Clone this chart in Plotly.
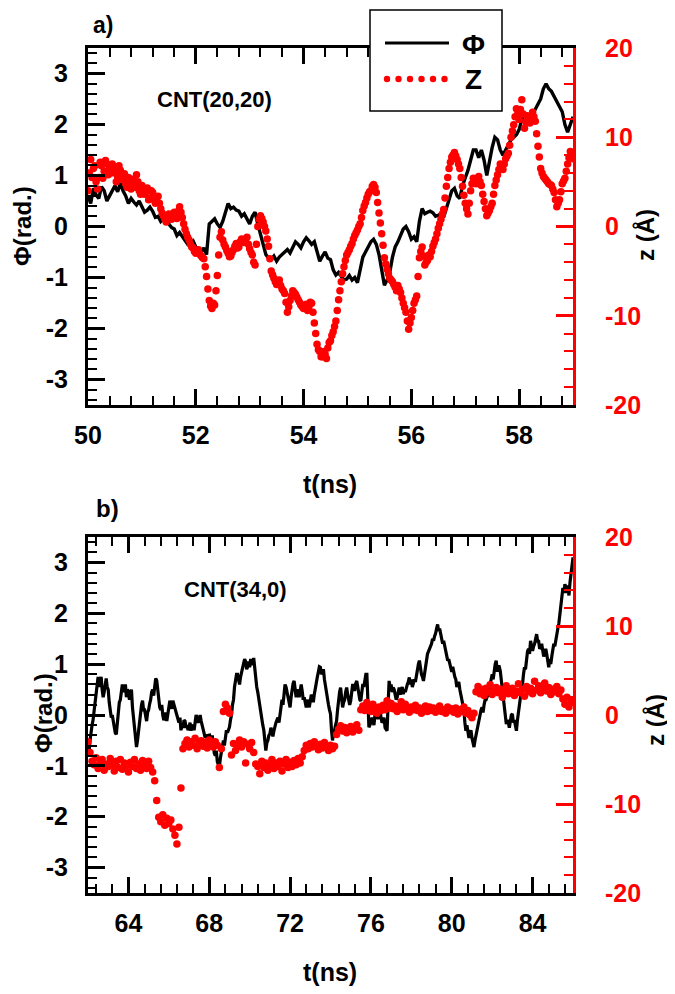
import numpy as np
import plotly.graph_objects as go

# page is 675x994; the html body adds an 8px margin, so the figure is 8px smaller
W, H = 675, 994
OFF = 8
FW, FH = W - OFF, H - OFF

# ---------------- data ----------------
# Panel a) CNT(20,20): Phi every 0.05 ns from 50 ns
phi_a = [0.6, 0.45, 0.75, 0.62, 0.55, 0.78, 0.7, 0.5, 0.6, 0.72, 0.8, 0.68, 0.85, 0.7, 0.6, 0.45, 0.55, 0.48, 0.42, 0.5,
         0.4, 0.28, 0.32, 0.38, 0.3, 0.18, 0.2, 0.1, 0.15, 0.22, 0.05, -0.02, -0.05, -0.18, -0.12, -0.2, -0.25, -0.35, -0.32, -0.28,
         -0.4, -0.45, -0.5, -0.42, -0.55, 0.05, 0.1, 0.15, 0.05, -0.02, 0.1, 0.3, 0.45, 0.35, 0.38, 0.32, 0.3, 0.2, 0.25, 0.15,
         0.05, 0.2, 0.28, 0.05, -0.15, -0.4, -0.55, -0.62, -0.65, -0.58, -0.68, -0.6, -0.55, -0.48, -0.45, -0.52, -0.4, -0.3, -0.35, -0.42,
         -0.3, -0.22, -0.28, -0.35, -0.3, -0.5, -0.68, -0.58, -0.5, -0.62, -0.65, -0.85, -0.95, -0.9, -0.98, -1.05, -1.03, -0.96, -1.05, -1.0,
         -1.1, -0.85, -0.6, -0.5, -0.38, -0.3, -0.25, -0.35, -0.55, -0.9, -1.15, -1.05, -0.9, -0.6, -0.4, -0.3, -0.18, -0.05, 0.0, -0.1,
         -0.25, -0.2, -0.3, 0.1, 0.35, 0.25, 0.28, 0.3, 0.27, 0.2, 0.22, 0.25, 0.18, 0.35, 0.5, 0.7, 0.75, 0.6, 0.55, 0.8,
         0.95, 1.1, 1.3, 1.5, 1.5, 1.35, 1.5, 1.3, 1.0, 1.3, 1.55, 1.75, 1.7, 1.5, 1.4, 1.5, 1.6, 1.7, 1.75, 1.8,
         1.9, 2.1, 2.2, 2.1, 2.05, 2.2, 2.3, 2.4, 2.5, 2.7, 2.8, 2.7, 2.65, 2.55, 2.45, 2.35, 2.25, 2.0, 1.85, 2.0,
         2.15]
# z every 0.05 ns from 50 ns, and a second reading of the cloud at the half steps
z_a = [4.0, 7.5, 6.5, 5.0, 5.5, 6.8, 6.2, 7.0, 6.5, 7.0, 6.0, 5.6, 6.3, 5.2, 4.8, 5.5, 4.2, 4.8, 5.8, 4.0,
       4.6, 3.6, 4.3, 3.2, 3.8, 2.6, 3.4, 2.0, 1.2, 0.5, 1.4, 0.8, 1.6, 0.9, 2.2, 1.0, -0.3, -1.2, -2.0, -2.4,
       -3.0, -2.6, -3.3, -3.6, -5.6, -8.3, -9.2, -8.8, -5.5, -1.2, -1.5, -2.3, -3.0, -3.3, -2.6, -1.9, -2.3, -1.4, -1.8, -1.2,
       -2.5, -3.2, -4.3, 0.0, 1.2, 0.5, -0.5, -2.2, -5.0, -5.8, -6.5, -6.0, -7.0, -7.5, -9.6, -8.3, -7.2, -7.6, -8.2, -8.8,
       -9.2, -8.7, -9.0, -8.6, -10.8, -13.2, -14.0, -14.6, -14.3, -13.6, -12.8, -11.8, -10.6, -8.2, -6.2, -4.5, -3.2, -2.6, -1.9, -1.0,
       -0.4, 0.3, 1.8, 2.7, 3.6, 4.0, 4.7, 3.8, 1.5, -0.8, -3.5, -4.8, -5.8, -6.2, -6.8, -6.6, -7.4, -8.6, -9.6, -11.5,
       -10.2, -8.6, -7.8, -3.5, -2.3, -4.3, -3.8, -3.4, -2.2, -1.4, -0.2, 0.8, 1.9, 4.5, 6.5, 7.8, 8.3, 7.5, 6.5, 4.5,
       2.6, 1.4, 4.0, 5.4, 4.8, 5.6, 4.6, 2.8, 1.2, 1.8, 2.6, 4.6, 5.8, 7.0, 6.4, 7.6, 8.2, 10.0, 11.4, 13.2,
       12.0, 14.2, 11.0, 12.4, 11.6, 12.8, 11.8, 9.0, 6.5, 5.6, 5.2, 4.8, 4.6, 3.8, 2.2, 3.0, 4.8, 5.4, 7.0, 8.4,
       7.6]
z_a_mid = [6.0, 5.5, 6.8, 4.2, 7.2, 5.4, 7.4, 5.8, 6.0, 6.6, 5.0, 6.8, 5.6, 5.9, 4.4, 5.0, 5.3, 4.4, 5.0, 3.6,
           4.0, 3.9, 3.0, 4.0, 3.0, 2.9, 2.6, 1.5, 0.9, 1.0, 0.9, 1.3, 1.1, 1.7, 1.6, 0.3, -0.8, -1.5, -2.3, -2.8,
           -2.7, -3.1, -3.5, -4.5, -7.0, -8.9, -8.6, -7.2, -3.2, -0.6, -2.0, -2.7, -3.4, -2.9, -2.2, -2.4, -1.7, -1.7, -1.4, -2.0,
           -2.9, -4.0, -2.0, 0.8, 0.9, 0.0, -1.4, -3.6, -5.4, -6.2, -6.3, -6.6, -7.2, -8.5, -9.0, -7.8, -7.4, -7.9, -8.5, -9.0,
           -8.8, -9.4, -8.5, -9.6, -12.0, -13.8, -14.6, -14.0, -14.8, -13.0, -12.2, -11.2, -9.4, -7.2, -5.3, -3.8, -2.9, -2.2, -1.4, -0.7,
           0.0, 1.0, 2.3, 3.2, 3.9, 4.5, 4.4, 2.7, 0.4, -2.1, -4.2, -5.3, -6.0, -6.5, -7.2, -7.0, -8.0, -9.1, -10.6, -10.8,
           -9.4, -8.2, -5.6, -2.8, -3.3, -4.0, -3.2, -2.8, -1.8, -0.8, 0.3, 1.4, 3.2, 5.5, 7.2, 8.0, 7.9, 7.0, 5.5, 3.5,
           2.0, 2.6, 4.8, 5.0, 5.3, 5.0, 3.6, 2.0, 1.5, 2.2, 3.6, 5.2, 6.4, 6.7, 7.0, 7.9, 9.1, 10.7, 12.3, 12.6,
           13.1, 12.6, 11.7, 12.0, 12.2, 12.3, 10.4, 7.8, 6.0, 5.4, 5.0, 4.7, 4.2, 3.0, 2.6, 3.9, 5.1, 6.2, 7.7, 8.0]

# Panel b) CNT(34,0): Phi every 0.1 ns from 62 ns, plus readings at the half steps
phi_b = [-0.6, -0.5, -0.2, 0.1, 0.4, 0.75, 0.7, 0.5, 0.45, 0.72,
         0.5, 0.1, 0.0, -0.2, -0.38, 0.1, 0.3, 0.6, 0.5, 0.35,
         0.47, 0.42, 0.15, -0.2, -0.63, -0.3, 0.05, 0.28, 0.1, -0.12,
         0.1, 0.3, 0.5, 0.6, 0.68, 0.3, 0.1, 0.0, -0.05, -0.12,
         0.1, 0.22, 0.28, 0.15, 0.02, -0.15, -0.3, -0.25, -0.12, -0.2,
         -0.25, -0.31, -0.2, -0.1, -0.05, -0.1, -0.12, -0.25, -0.45, -0.5,
         -0.37, -0.5, -0.63, -0.8, -0.92, -1.02, -0.7, -0.5, -0.4, -0.35,
         -0.24, 0.0, 0.3, 0.7, 0.8, 0.6, 0.85, 1.0, 1.05, 0.95,
         0.94, 1.05, 1.12, 0.7, 0.45, 0.15, -0.1, -0.3, -0.7, -0.5,
         -0.37, -0.35, -0.31, -0.15, -0.05, 0.02, 0.3, 0.45, 0.55, 0.35,
         0.15, 0.5, 0.67, 0.35, 0.45, 0.54, 0.47, 0.35, 0.15, 0.25,
         0.28, 0.35, 0.41, 0.6, 0.85, 0.94, 0.85, 0.7, 0.41, 0.2,
         0.02, -0.5, -0.3, -0.12, 0.3, 0.54, 0.15, 0.3, 0.54, 0.3,
         0.28, 0.61, 0.5, 0.67, 0.4, 0.28, 0.61, 0.7, 0.8, -0.24,
         -0.15, -0.12, 0.0, 0.02, 0.02, -0.05, -0.12, -0.25, -0.31, 0.67,
         0.6, 0.54, 0.4, 0.35, 0.54, 0.5, 0.41, 0.45, 0.6, 0.74,
         0.7, 0.61, 0.65, 0.9, 1.07, 0.8, 0.67, 0.95, 1.2, 1.3,
         1.4, 1.46, 1.6, 1.78, 1.7, 1.5, 1.46, 1.3, 1.07, 1.0,
         0.85, 0.8, 0.7, 0.61, 0.5, 0.3, 0.1, -0.31, -0.35, -0.37,
         -0.45, -0.63, -0.4, -0.18, 0.0, 0.15, 0.2, 0.3, 0.41, 0.6,
         0.8, 0.9, 1.07, 0.95, 0.87, 0.5, 0.28, -0.18, -0.15, -0.12,
         0.02, -0.1, -0.31, 0.1, 0.35, 0.6, 0.94, 1.1, 1.3, 1.46,
         1.26, 1.4, 1.59, 1.45, 1.33, 1.25, 1.2, 1.2, 0.94, 1.0,
         1.26, 1.35, 1.6, 1.8, 2.2, 2.5, 2.57, 2.4, 2.35, 2.8,
         3.1]
phi_b_mid = [-0.75, -0.3, -0.1, 0.3, 0.7, 0.55, 0.75, 0.35, 0.6, 0.55,
             0.25, -0.05, -0.15, -0.35, -0.1, 0.25, 0.5, 0.45, 0.6, 0.5,
             0.3, 0.5, -0.05, -0.45, -0.5, -0.1, 0.2, 0.1, -0.05, 0.05,
             0.22, 0.45, 0.38, 0.72, 0.45, 0.15, 0.2, -0.1, 0.05, 0.0,
             0.28, 0.12, 0.2, 0.05, -0.1, -0.05, -0.2, -0.1, -0.25, -0.3,
             -0.15, -0.22, -0.3, 0.0, -0.15, 0.0, -0.2, -0.35, -0.38, -0.55,
             -0.45, -0.4, -0.75, -0.7, -0.98, -0.85, -0.55, -0.6, -0.3, -0.3,
             -0.1, 0.2, 0.55, 0.8, 0.65, 0.75, 0.95, 1.1, 0.9, 1.05,
             1.1, 0.98, 0.9, 0.55, 0.3, 0.0, -0.2, -0.5, -0.55, -0.4,
             -0.25, -0.42, -0.2, -0.1, -0.15, 0.15, 0.2, 0.6, 0.4, 0.25,
             0.35, 0.62, 0.5, 0.5, 0.35, 0.6, 0.3, 0.25, 0.3, 0.15,
             0.4, 0.25, 0.55, 0.75, 0.95, 0.8, 0.9, 0.55, 0.3, 0.1,
             -0.3, -0.35, -0.2, 0.1, 0.45, 0.3, 0.25, 0.45, 0.4, 0.2,
             0.45, 0.5, 0.62, 0.55, 0.3, 0.45, 0.55, 0.8, 0.3, -0.2,
             -0.05, -0.2, 0.1, -0.08, 0.1, -0.15, -0.05, -0.3, 0.2, 0.55,
             0.45, 0.5, 0.3, 0.5, 0.4, 0.55, 0.5, 0.55, 0.65, 0.6,
             0.55, 0.7, 0.8, 1.0, 0.9, 0.75, 0.8, 1.05, 1.25, 1.35,
             1.5, 1.55, 1.7, 1.65, 1.6, 1.4, 1.35, 1.2, 1.1, 0.9,
             0.95, 0.75, 0.55, 0.65, 0.4, 0.2, -0.15, -0.2, -0.45, -0.3,
             -0.55, -0.5, -0.3, -0.05, 0.1, 0.05, 0.3, 0.35, 0.5, 0.75,
             0.7, 1.0, 0.85, 0.95, 0.7, 0.4, 0.0, -0.1, -0.25, 0.0,
             -0.15, -0.25, -0.1, 0.25, 0.5, 0.8, 0.9, 1.25, 1.2, 1.35,
             1.35, 1.5, 1.45, 1.3, 1.4, 1.15, 1.3, 1.05, 1.1, 1.15,
             1.4, 1.5, 1.7, 2.0, 2.4, 2.4, 2.5, 2.55, 2.6, 2.95]
z_b = [-3.0, -4.2, -5.2, -5.6, -4.8, -6.0, -5.4, -5.0, -6.2, -5.5,
       -5.8, -4.9, -5.6, -6.3, -5.2, -5.9, -5.0, -6.1, -5.4, -5.7,
       -6.4, -5.3, -5.8, -5.0, -6.0, -5.5, -6.2, -5.1, -5.7, -6.0,
       -5.2, -5.9, -6.4, -7.4, -9.6, -11.5, -12.0, -11.2, -12.4, -11.6,
       -12.2, -11.8, -12.8, -13.5, -14.5, -12.6, -8.2, -3.8, -3.2, -2.8,
       -3.6, -3.0, -3.4, -2.6, -3.8, -3.2, -2.9, -3.5, -3.1, -3.7,
       -2.8, -3.3, -3.6, -3.0, -3.4, -5.9, -3.8, 0.4, 1.2, 0.8,
       0.2, -4.5, -3.2, -4.0, -3.4, -2.8, -3.6, -3.0, -5.4, -3.3,
       -3.8, -3.1, -4.2, -5.5, -5.8, -6.6, -5.2, -5.9, -5.4, -6.2,
       -5.7, -5.0, -6.0, -5.4, -5.8, -5.2, -6.3, -5.5, -5.0, -5.9,
       -5.3, -5.8, -5.1, -5.6, -4.9, -5.4, -4.7, -4.0, -3.4, -3.8,
       -3.2, -3.6, -3.0, -3.5, -3.9, -3.3, -3.7, -3.1, -3.6, -4.0,
       -3.4, -3.8, -3.5, -2.2, -1.6, -1.2, -1.8, -1.4, -2.0, -1.5,
       -1.3, -1.9, -1.6, -1.1, -1.7, 0.6, 1.0, 0.5, 1.4, 0.8,
       0.4, 1.2, 0.7, 0.2, 0.9, 0.5, 1.1, 0.6, 1.6, 0.8,
       1.3, 0.7, 1.0, 0.4, 0.9, 1.5, 0.6, 1.2, 0.8, 0.3,
       0.9, 0.6, 1.1, 0.5, 0.8, 0.2, 0.7, 1.0, 0.4, 0.9,
       0.5, 0.8, 0.3, 0.7, 1.0, 0.4, 0.6, 0.2, 0.9, 0.5,
       0.7, 0.3, 0.8, 0.1, 0.6, 0.4, 0.9, 0.2, 0.5, 0.0,
       -0.3, 0.2, 2.6, 3.2, 2.4, 2.9, 2.2, 3.0, 2.6, 3.4,
       2.3, 2.8, 3.1, 2.5, 2.9, 2.0, 2.6, 3.3, 2.4, 2.8,
       3.0, 2.2, 2.7, 3.5, 2.5, 2.9, 2.1, 3.2, 2.6, 3.0,
       2.4, 3.8, 2.8, 3.3, 2.5, 3.0, 3.6, 2.7, 3.1, 2.3,
       2.9, 2.6, 3.2, 2.4, 2.8, 1.8, 1.2, 2.0, 0.9, 1.6,
       1.4]

t_phi_a = 50.0 + 0.05 * np.arange(len(phi_a))
t_z_a = 50.0 + 0.05 * np.arange(len(z_a))
t_z_a_mid = 50.025 + 0.05 * np.arange(len(z_a_mid))
phi_b_all = [v for pair in zip(phi_b[:-1], phi_b_mid) for v in pair] + [phi_b[-1]]
t_phi_b = 62.0 + 0.05 * np.arange(len(phi_b_all))
t_z_b = 62.0 + 0.1 * np.arange(len(z_b))

x_range_a = [50, 59]
x_range_b = [62, 86]
phi_range = [-3.5, 3.5]
z_range = [-20, 20]
phi_ticks = [-3, -2, -1, 0, 1, 2, 3]
phi_ticktext = ["-3", "-2", "-1", "0", "1", "2", "3"]
z_ticks = [-20, -10, 0, 10, 20]
z_ticktext = ["-20", "-10", "0", "10", "20"]

# ---------------- helpers (page pixel -> paper) ----------------
def fx(p):
    return (p - OFF) / FW

def fy(p):
    return 1 - (p - OFF) / FH

FONT = "Liberation Sans, Arial, sans-serif"
RED = "#ff0000"

PL, PR = 88, 573           # plot area left/right pixels
A_T, A_B = 48, 405         # panel a top/bottom
B_T, B_B = 537, 893        # panel b top/bottom

tickfont_black = dict(family=FONT, size=25, color="black", weight="bold")
tickfont_red = dict(family=FONT, size=25, color=RED, weight="bold")

fig = go.Figure()

fig.add_trace(go.Scatter(x=t_phi_a, y=phi_a, xaxis="x", yaxis="y", mode="lines",
                         line=dict(color="black", width=3.4), showlegend=False))
fig.add_trace(go.Scatter(x=np.concatenate([t_z_a, t_z_a_mid]), y=z_a + z_a_mid,
                         xaxis="x", yaxis="y2", mode="markers",
                         marker=dict(color=RED, size=7.5, line=dict(width=0)), showlegend=False))
fig.add_trace(go.Scatter(x=t_phi_b, y=phi_b_all, xaxis="x2", yaxis="y3", mode="lines",
                         line=dict(color="black", width=3.2), showlegend=False))
fig.add_trace(go.Scatter(x=t_z_b, y=z_b, xaxis="x2", yaxis="y4", mode="markers",
                         marker=dict(color=RED, size=7.5, line=dict(width=0)), showlegend=False))


def xaxis_cfg(rng, tick0, dtick, mdtick, anchor):
    return dict(domain=[fx(PL), fx(PR)], anchor=anchor, range=rng, automargin=False,
                tick0=tick0, dtick=dtick, ticks="inside", ticklen=16, tickwidth=3,
                tickcolor="black", showline=True, linewidth=3, linecolor="black",
                mirror="ticks", showgrid=False, zeroline=False,
                tickfont=tickfont_black, ticklabelstandoff=6,
                minor=dict(tick0=tick0, dtick=mdtick, ticks="inside", ticklen=9,
                           tickwidth=2, tickcolor="black", showgrid=False))


def yleft_cfg(top, bot, anchor):
    return dict(domain=[fy(bot), fy(top)], anchor=anchor, range=phi_range, automargin=False,
                tickmode="array", tickvals=phi_ticks, ticktext=phi_ticktext,
                ticks="inside", ticklen=17, tickwidth=3,
                tickcolor="black", showline=True, linewidth=3, linecolor="black",
                mirror=False, showgrid=False, zeroline=False,
                tickfont=tickfont_black, ticklabelstandoff=12,
                minor=dict(tick0=0, dtick=0.2, ticks="inside", ticklen=9,
                           tickwidth=2, tickcolor="black", showgrid=False))


def yright_cfg(over, anchor):
    return dict(overlaying=over, side="right", anchor=anchor, range=z_range, automargin=False,
                tickmode="array", tickvals=z_ticks, ticktext=z_ticktext,
                ticks="inside", ticklen=17, tickwidth=3,
                tickcolor=RED, showline=True, linewidth=3, linecolor=RED,
                showgrid=False, zeroline=False,
                tickfont=tickfont_red, ticklabelstandoff=24,
                minor=dict(tick0=0, dtick=2, ticks="inside", ticklen=9,
                           tickwidth=2, tickcolor=RED, showgrid=False))


fig.update_layout(
    template="none",
    width=FW, height=FH,
    margin=dict(l=0, r=0, t=0, b=0, autoexpand=False),
    paper_bgcolor="white", plot_bgcolor="white",
    showlegend=False,
    xaxis=xaxis_cfg(x_range_a, 50, 2, 0.4, "y"),
    yaxis=yleft_cfg(A_T, A_B, "x"),
    yaxis2=yright_cfg("y", "x"),
    xaxis2=xaxis_cfg(x_range_b, 64, 4, 0.8, "y3"),
    yaxis3=yleft_cfg(B_T, B_B, "x2"),
    yaxis4=yright_cfg("y3", "x2"),
)

# ---------------- text ----------------
def ann(text, xp, yp, size, color="black", angle=0):
    return dict(text=text, x=fx(xp), y=fy(yp), xref="paper", yref="paper",
                xanchor="center", yanchor="middle", showarrow=False, textangle=angle,
                font=dict(family=FONT, size=size, color=color, weight="bold"))

annotations = [
    ann("a)", 103, 25, 23),
    ann("b)", 107, 508, 24),
    ann("CNT(20,20)", 214, 100, 22),
    ann("CNT(34,0)", 235, 589, 22),
    ann("t(ns)", 330, 484, 25),
    ann("t(ns)", 330, 972, 25),
    ann("Φ(rad.)", 22, 226, 24, angle=-90),
    ann("Φ(rad.)", 43, 713, 24, angle=-90),
    ann("z (Å)", 645, 235, 24, angle=-90),
    ann("z (Å)", 655, 720, 24, angle=-90),
    # legend labels
    ann("Φ", 474, 45, 28),
    ann("Z", 473, 79, 28),
]
fig.update_layout(annotations=annotations)

# ---------------- legend box (drawn manually) ----------------
shapes = [
    dict(type="rect", xref="paper", yref="paper", x0=fx(370), x1=fx(502), y0=fy(111), y1=fy(10),
         line=dict(color="black", width=1.5), fillcolor="white", layer="above"),
    dict(type="line", xref="paper", yref="paper", x0=fx(385), x1=fx(449), y0=fy(43), y1=fy(43),
         line=dict(color="black", width=3), layer="above"),
]
for cx in [387, 398.5, 410, 421.5, 433, 444.5]:
    r = 3.2
    shapes.append(dict(type="circle", xref="paper", yref="paper",
                       x0=fx(cx - r), x1=fx(cx + r), y0=fy(79 + r), y1=fy(79 - r),
                       line=dict(width=0), fillcolor=RED, layer="above"))
fig.update_layout(shapes=shapes)

fig.write_html("out.html")
